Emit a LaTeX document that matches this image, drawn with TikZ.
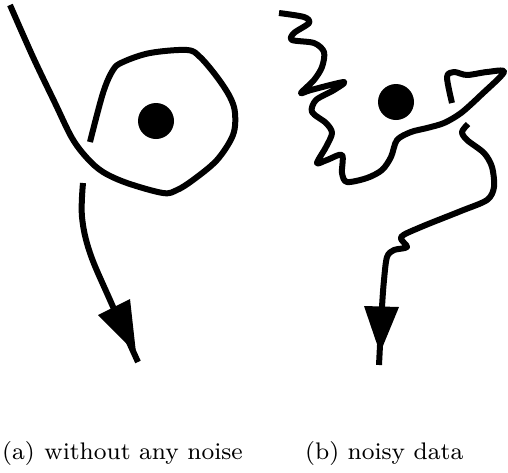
\documentclass[tikz,border=0pt]{standalone}
\usepackage{fontspec}
\newfontfamily\capfont{lmroman8-regular.otf}
\begin{document}
\begin{tikzpicture}[x=1pt,y=-1pt,
  curve/.style={line width=6pt,line join=round},
  headtri/.style={fill=black},
  centre/.style={fill=black},
  caption/.style={anchor=base west,inner sep=0pt,font=\capfont\fontsize{24}{28}\selectfont}]
\useasboundingbox (0,0) rectangle (508,472);

% (a) orbit without noise
\draw[curve] plot[smooth,tension=0.55] coordinates {
  (10,5) (33,57) (55,103) (72,138) (87,158) (103,172) (127,183) (163,193)
  (177,190) (193,180) (217,160) (233,135) (235,113) (230,97) (217,77)
  (200,57) (187,50) (150,53) (123,62) (113,70) (103,93) (90,142)};
\fill[centre] (156,121) circle (18);
\draw[curve] plot[smooth,tension=0.6] coordinates {
  (83,183) (82,217) (90,253) (110,300) (138,362)};
\fill[headtri] (98,315) -- (130,299) -- (136,353) -- cycle;

% (b) orbit with noisy data
\draw[curve] plot[smooth,tension=0.5] coordinates {
  (279,13) (304,17) (309,23) (294,33) (292,40) (314,43) (324,52) (322,67)
  (314,80) (301,93) (311,90) (344,82) (334,90) (316,100) (312,112)
  (326,123) (332,133) (326,147) (317,163) (327,160) (342,155) (342,173)
  (347,182) (367,178) (382,170) (391,157) (397,140) (411,132) (427,128)
  (444,123) (461,113) (481,95) (504,72) (487,72) (467,75) (454,72)
  (447,77) (452,103)};
\fill[centre] (396,102) circle (18);
\draw[curve] plot[smooth,tension=0.5] coordinates {
  (468,124) (462,132) (467,140) (484,153) (492,167) (494,187) (487,200)
  (461,211) (421,227) (401,237) (407,247) (394,250) (387,257) (384,280)
  (382,307) (379,365)};
\fill[headtri] (364,306) -- (399,307) -- (380,353) -- cycle;

% captions
\node[caption] (capa) at (2,459) {(a)\hspace{0.4em}without any noise};
\node[caption] (capb) at (305,459) {(b) noisy data};
\end{tikzpicture}
\end{document}
